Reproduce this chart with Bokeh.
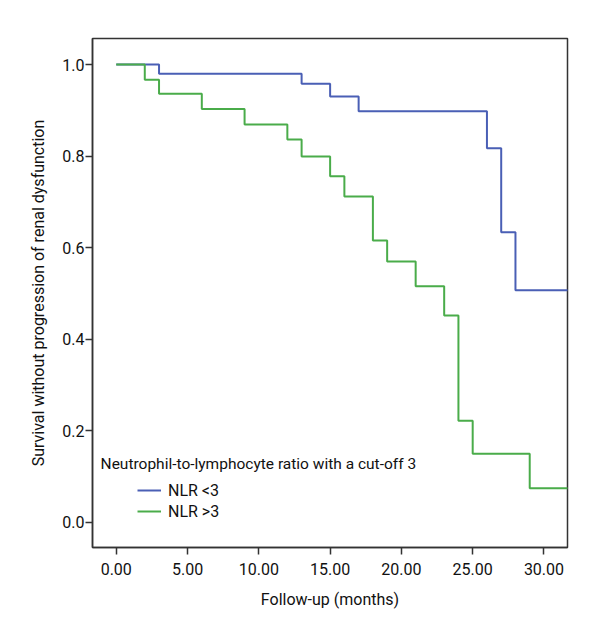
from bokeh.plotting import figure
from bokeh.models import Range1d, FixedTicker, Legend, LegendItem, Label
from bokeh.embed import file_html
from bokeh.resources import INLINE

# ---- data ----
blue_time = [0, 3, 13, 15, 17, 26, 27, 28, 32]
blue_surv = [1.0, 0.980, 0.958, 0.930, 0.898, 0.817, 0.634, 0.507, 0.507]

green_time = [0, 2, 3, 6, 9, 12, 13, 15, 16, 18, 19, 21, 23, 24, 25, 29, 32]
green_surv = [1.0, 0.967, 0.936, 0.903, 0.869, 0.836, 0.799, 0.756, 0.712,
              0.616, 0.570, 0.516, 0.452, 0.222, 0.150, 0.075, 0.075]

series_names = ["NLR <3", "NLR >3"]
legend_title = "Neutrophil-to-lymphocyte ratio with a cut-off 3"

x_ticks = [0, 5, 10, 15, 20, 25, 30]
x_tick_labels = ["0.00", "5.00", "10.00", "15.00", "20.00", "25.00", "30.00"]
y_ticks = [0.0, 0.2, 0.4, 0.6, 0.8, 1.0]
y_tick_labels = ["0.0", "0.2", "0.4", "0.6", "0.8", "1.0"]

x_label = "Follow-up (months)"
y_label = "Survival without progression of renal dysfunction"

FONT = "Roboto"
FS = "16px"
BLUE = "#4a5fb5"
GREEN = "#4aac4a"
AXIS_COLOR = "#333333"
TEXT_COLOR = "#111111"

p = figure(width=592, height=632, output_backend="svg", toolbar_location=None,
           x_range=Range1d(-1.667, 31.65), y_range=Range1d(-0.0546, 1.0568),
           min_border_left=92, min_border_right=25, min_border_top=38,
           min_border_bottom=85)

p.xgrid.visible = False
p.ygrid.visible = False
p.outline_line_color = AXIS_COLOR
p.outline_line_width = 1.5
p.background_fill_color = "white"
p.border_fill_color = "white"

r_blue = p.step(blue_time, blue_surv, mode="after", line_color=BLUE, line_width=2)
r_green = p.step(green_time, green_surv, mode="after", line_color=GREEN, line_width=2)

for ax, ticks, labels in ((p.xaxis[0], x_ticks, x_tick_labels), (p.yaxis[0], y_ticks, y_tick_labels)):
    ax.ticker = FixedTicker(ticks=ticks)
    ax.major_label_overrides = {t: l for t, l in zip(ticks, labels)}
    ax.minor_tick_line_color = None
    ax.major_tick_out = 7
    ax.major_tick_in = 0
    ax.major_tick_line_color = AXIS_COLOR
    ax.major_tick_line_width = 1.5
    ax.axis_line_color = AXIS_COLOR
    ax.axis_line_width = 1.5
    ax.major_label_text_font = FONT
    ax.major_label_text_font_size = FS
    ax.major_label_text_color = TEXT_COLOR
    ax.axis_label_text_font = FONT
    ax.axis_label_text_font_size = FS
    ax.axis_label_text_font_style = "normal"
    ax.axis_label_text_color = TEXT_COLOR

p.xaxis.axis_label = x_label
p.yaxis.axis_label = y_label
p.xaxis.major_label_standoff = 8
p.xaxis.axis_label_standoff = 12
p.yaxis.major_label_standoff = 1
p.yaxis.axis_label_standoff = 11

title_label = Label(x=-1.1, y=0.128, x_units="data", y_units="data", text=legend_title,
                    text_font=FONT, text_font_size="15.5px", text_baseline="middle",
                    text_color=TEXT_COLOR)
p.add_layout(title_label)

legend = Legend(items=[LegendItem(label=series_names[0], renderers=[r_blue]),
                       LegendItem(label=series_names[1], renderers=[r_green])],
                location=(45, 26), orientation="vertical",
                label_text_font=FONT, label_text_font_size=FS,
                label_text_color=TEXT_COLOR,
                glyph_width=24, glyph_height=20, label_height=20,
                label_standoff=7, spacing=1, padding=0, margin=0,
                background_fill_alpha=0, border_line_alpha=0)
p.add_layout(legend)

open("out.html", "w").write(file_html(p, INLINE))
